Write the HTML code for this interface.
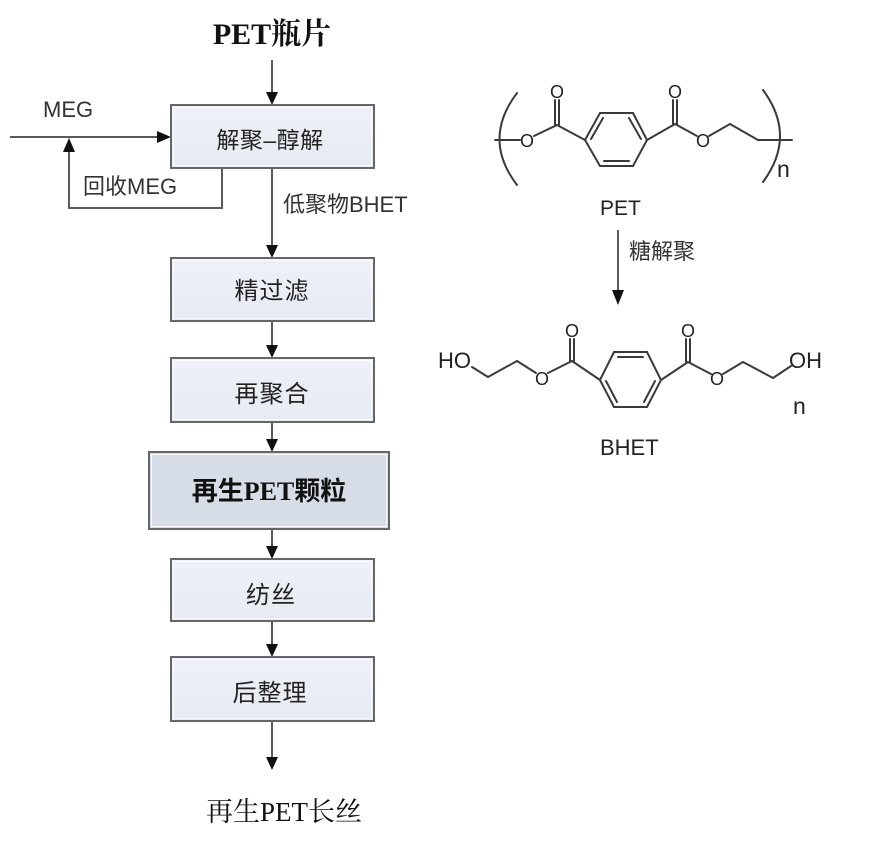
<!DOCTYPE html>
<html>
<head>
<meta charset="utf-8">
<style>
html,body{margin:0;padding:0;background:#fff;}
svg{display:block;}
.sans{font-family:"Liberation Sans","Noto Sans CJK SC",sans-serif;}
</style>
</head>
<body>
<svg width="884" height="845" viewBox="0 0 884 845" xmlns="http://www.w3.org/2000/svg">
  <defs>
    <linearGradient id="g1" x1="0" y1="0" x2="0" y2="1">
      <stop offset="0" stop-color="#eef1f7"/>
      <stop offset="1" stop-color="#e6eaf2"/>
    </linearGradient>
  </defs>

  <!-- Title -->
  <text x="272" y="44" text-anchor="middle" font-family="Liberation Serif, Noto Serif CJK SC, serif" font-weight="bold" font-size="30" fill="#111">PET瓶片</text>

  <!-- main flow lines -->
  <g stroke="#5a5a5a" stroke-width="2" fill="none">
    <line x1="272" y1="60" x2="272" y2="95"/>
    <line x1="272" y1="168" x2="272" y2="248"/>
    <line x1="272" y1="321" x2="272" y2="348"/>
    <line x1="272" y1="422" x2="272" y2="442"/>
    <line x1="272" y1="529" x2="272" y2="549"/>
    <line x1="272" y1="621" x2="272" y2="647"/>
    <line x1="272" y1="721" x2="272" y2="760"/>
    <!-- MEG input -->
    <line x1="10" y1="137" x2="160" y2="137"/>
    <!-- recycle loop -->
    <polyline points="222,168 222,208 69,208 69,150"/>
  </g>
  <g fill="#111">
    <polygon points="266,92 278,92 272,105"/>
    <polygon points="266,245 278,245 272,258"/>
    <polygon points="266,345 278,345 272,358"/>
    <polygon points="266,439 278,439 272,452"/>
    <polygon points="266,546 278,546 272,559"/>
    <polygon points="266,644 278,644 272,657"/>
    <polygon points="266,757 278,757 272,770"/>
    <polygon points="157,131 157,143 171,137"/>
    <polygon points="63,152 75,152 69,138"/>
  </g>

  <!-- Boxes -->
  <g stroke="#666" stroke-width="2">
    <rect x="171" y="105" width="203" height="63" fill="url(#g1)"/>
    <rect x="171" y="258" width="203" height="63" fill="url(#g1)"/>
    <rect x="171" y="358" width="203" height="64" fill="url(#g1)"/>
    <rect x="149" y="452" width="240" height="77" fill="#d7dde6"/>
    <rect x="171" y="559" width="203" height="62" fill="url(#g1)"/>
    <rect x="171" y="657" width="203" height="64" fill="url(#g1)"/>
  </g>
  <g stroke="#ffffff" stroke-width="1" fill="none" opacity="0.8">
    <rect x="173.5" y="107.5" width="198" height="58"/>
    <rect x="173.5" y="260.5" width="198" height="58"/>
    <rect x="173.5" y="360.5" width="198" height="59"/>
    <rect x="151.5" y="454.5" width="235" height="72"/>
    <rect x="173.5" y="561.5" width="198" height="57"/>
    <rect x="173.5" y="659.5" width="198" height="59"/>
  </g>

  <!-- Box labels -->
  <g class="sans" fill="#222" text-anchor="middle">
    <text x="270" y="148" font-size="23" letter-spacing="0.5">解聚–醇解</text>
    <text x="272" y="299" font-size="24" letter-spacing="1">精过滤</text>
    <text x="272" y="402" font-size="24" letter-spacing="1">再聚合</text>
    <text x="271" y="603" font-size="24" letter-spacing="1">纺丝</text>
    <text x="270" y="701" font-size="24" letter-spacing="1">后整理</text>
  </g>
  <text x="269" y="500" text-anchor="middle" font-family="Liberation Serif, Noto Sans CJK SC, sans-serif" font-weight="bold" font-size="26" fill="#111">再生PET颗粒</text>

  <!-- flow side labels -->
  <g class="sans" font-size="22" fill="#333">
    <text x="43" y="117">MEG</text>
    <text x="83" y="194">回收MEG</text>
    <text x="283" y="212">低聚物BHET</text>
  </g>

  <!-- final product -->
  <text x="284" y="821" text-anchor="middle" font-family="Liberation Serif, Noto Serif CJK SC, serif" font-size="27" fill="#111">再生PET长丝</text>

  <!-- PET structure -->
  <g stroke="#3a3a3a" stroke-width="2" fill="none" stroke-linecap="round">
    <path d="M517,93 Q482,139 517,185"/>
    <path d="M763,90 Q797,136 763,182"/>
    <line x1="495" y1="140" x2="520" y2="140"/>
    <line x1="534" y1="136" x2="557" y2="125"/>
    <line x1="555" y1="125" x2="555" y2="100"/>
    <line x1="559" y1="125" x2="559" y2="100"/>
    <line x1="557" y1="125" x2="585" y2="140"/>
    <polygon points="585,140 600,113 633,113 647,140 633,166 600,166"/>
    <line x1="591" y1="139" x2="603" y2="118"/>
    <line x1="629" y1="118" x2="641" y2="139"/>
    <line x1="604" y1="161" x2="629" y2="161"/>
    <line x1="647" y1="140" x2="675" y2="124"/>
    <line x1="673" y1="124" x2="673" y2="100"/>
    <line x1="677" y1="124" x2="677" y2="100"/>
    <line x1="675" y1="124" x2="697" y2="136"/>
    <line x1="709" y1="136" x2="730" y2="124"/>
    <line x1="730" y1="124" x2="758" y2="140"/>
    <line x1="758" y1="140" x2="792" y2="140"/>
  </g>
  <g class="sans" font-size="18" fill="#222" text-anchor="middle">
    <text x="527" y="147">O</text>
    <text x="557" y="98">O</text>
    <text x="675" y="98">O</text>
    <text x="703" y="147">O</text>
  </g>
  <text x="777" y="177" class="sans" font-size="23" fill="#222">n</text>
  <text x="600" y="215" class="sans" font-size="21" fill="#222">PET</text>

  <!-- glycolysis arrow -->
  <line x1="618" y1="230" x2="618" y2="292" stroke="#5a5a5a" stroke-width="2"/>
  <polygon points="612,290 624,290 618,305" fill="#111"/>
  <text x="629" y="259" class="sans" font-size="22" fill="#333">糖解聚</text>

  <!-- BHET structure -->
  <g stroke="#3a3a3a" stroke-width="2" fill="none" stroke-linecap="round">
    <line x1="472" y1="367" x2="488" y2="377"/>
    <line x1="488" y1="377" x2="517" y2="361"/>
    <line x1="517" y1="361" x2="536" y2="373"/>
    <line x1="548" y1="373" x2="572" y2="361"/>
    <line x1="570" y1="361" x2="570" y2="339"/>
    <line x1="574" y1="361" x2="574" y2="339"/>
    <line x1="572" y1="361" x2="600" y2="380"/>
    <polygon points="600,380 614,352 647,352 661,380 647,407 614,407"/>
    <line x1="618" y1="357" x2="643" y2="357"/>
    <line x1="606" y1="381" x2="617" y2="402"/>
    <line x1="655" y1="381" x2="644" y2="402"/>
    <line x1="661" y1="380" x2="688" y2="362"/>
    <line x1="686" y1="362" x2="686" y2="339"/>
    <line x1="690" y1="362" x2="690" y2="339"/>
    <line x1="688" y1="362" x2="711" y2="374"/>
    <line x1="723" y1="374" x2="743" y2="362"/>
    <line x1="743" y1="362" x2="773" y2="378"/>
    <line x1="773" y1="378" x2="791" y2="366"/>
  </g>
  <g class="sans" font-size="18" fill="#222" text-anchor="middle">
    <text x="542" y="385">O</text>
    <text x="572" y="337">O</text>
    <text x="688" y="337">O</text>
    <text x="717" y="385">O</text>
  </g>
  <text x="438" y="368" class="sans" font-size="22" fill="#222">HO</text>
  <text x="789" y="368" class="sans" font-size="22" fill="#222">OH</text>
  <text x="793" y="414" class="sans" font-size="23" fill="#222">n</text>
  <text x="600" y="455" class="sans" font-size="22" fill="#222">BHET</text>
</svg>
</body>
</html>
